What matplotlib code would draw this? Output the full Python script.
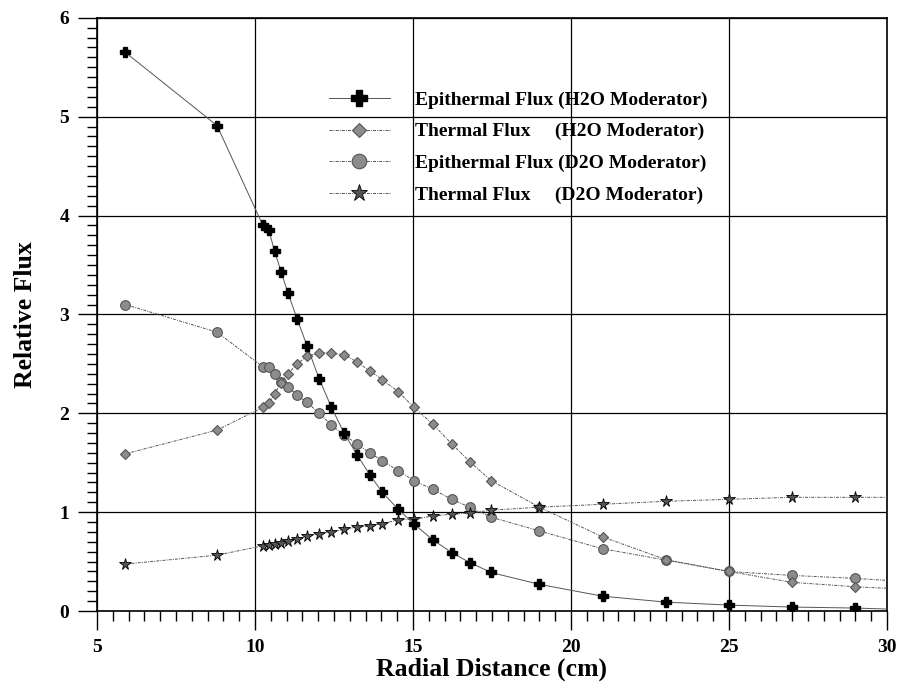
import matplotlib.pyplot as plt
from matplotlib.ticker import MultipleLocator

# radial positions where fluxes were computed (cm)
radius = [5.9, 8.8, 10.25, 10.44, 10.62, 10.83, 11.04, 11.34, 11.65, 12.03,
          12.42, 12.82, 13.23, 13.63, 14.03, 14.53, 15.03, 15.63, 16.23,
          16.8, 17.47, 19.0, 21.0, 23.0, 25.0, 27.0, 29.0]

epi_h2o = [5.65, 4.91, 3.90, 3.85, 3.64, 3.43, 3.22, 2.95, 2.68, 2.35,
           2.06, 1.80, 1.58, 1.38, 1.20, 1.03, 0.88, 0.72, 0.59,
           0.49, 0.39, 0.27, 0.15, 0.09, 0.06, 0.04, 0.03]

th_h2o = [1.59, 1.83, 2.06, 2.10, 2.20, 2.31, 2.40, 2.50, 2.58, 2.61,
          2.61, 2.59, 2.52, 2.43, 2.34, 2.22, 2.06, 1.89, 1.69,
          1.51, 1.32, 1.05, 0.75, 0.52, 0.40, 0.29, 0.245]

epi_d2o = [3.10, 2.82, 2.47, 2.47, 2.40, 2.32, 2.27, 2.18, 2.11, 2.00,
           1.88, 1.78, 1.69, 1.60, 1.52, 1.42, 1.32, 1.23, 1.13,
           1.05, 0.95, 0.81, 0.63, 0.515, 0.40, 0.36, 0.33]

th_d2o = [0.475, 0.565, 0.66, 0.67, 0.68, 0.69, 0.71, 0.73, 0.76, 0.78,
          0.80, 0.825, 0.85, 0.86, 0.885, 0.92, 0.93, 0.96, 0.98,
          0.99, 1.02, 1.05, 1.08, 1.11, 1.13, 1.15, 1.15]

# the drawn curves run on to the right edge of the plot
edge_x = 30.0
edge_vals = {"epi_h2o": 0.02, "th_h2o": 0.23, "epi_d2o": 0.31, "th_d2o": 1.15}

plt.rcParams['font.family'] = ['Liberation Serif', 'DejaVu Serif']
plt.rcParams['font.weight'] = 'bold'

fig = plt.figure(figsize=(8.98, 6.86), dpi=100)
ax = fig.add_axes([0.108, 0.1093, 0.8797, 0.8647])

n = len(radius)
xs = radius + [edge_x]
gray = '#8c8c8c'
dash = (0, (3, 1.2, 1, 1.2))

ax.plot(xs, epi_h2o + [edge_vals["epi_h2o"]], color='#555555', lw=0.7,
        linestyle='-', marker='P', markersize=7.5, markerfacecolor='black',
        markeredgecolor='black', markevery=list(range(n)),
        label='Epithermal Flux (H2O Moderator)', zorder=5)
ax.plot(xs, th_h2o + [edge_vals["th_h2o"]], color='#555555', lw=0.7,
        linestyle=dash, marker='D', markersize=5, markerfacecolor=gray,
        markeredgecolor='#555555', markeredgewidth=0.8,
        markevery=list(range(n)),
        label='Thermal Flux     (H2O Moderator)', zorder=4)
ax.plot(xs, epi_d2o + [edge_vals["epi_d2o"]], color='#555555', lw=0.7,
        linestyle=dash, marker='o', markersize=7, markerfacecolor=gray,
        markeredgecolor='#555555', markeredgewidth=0.8,
        markevery=list(range(n)),
        label='Epithermal Flux (D2O Moderator)', zorder=3)
ax.plot(xs, th_d2o + [edge_vals["th_d2o"]], color='#555555', lw=0.7,
        linestyle=dash, marker='*', markersize=8.5, markerfacecolor='#555555',
        markeredgecolor='black', markeredgewidth=0.6,
        markevery=list(range(n)),
        label='Thermal Flux     (D2O Moderator)', zorder=4)

ax.set_xlim(5, 30)
ax.set_ylim(0, 6)
ax.xaxis.set_major_locator(MultipleLocator(5))
ax.xaxis.set_minor_locator(MultipleLocator(0.5))
ax.yaxis.set_major_locator(MultipleLocator(1))
ax.yaxis.set_minor_locator(MultipleLocator(0.1))
ax.grid(True, which='major', color='black', lw=0.9)
ax.tick_params(which='major', direction='out', length=14, width=1,
               labelsize=14, pad=6)
ax.tick_params(which='minor', direction='out', length=7, width=1)
for lbl in ax.get_xticklabels() + ax.get_yticklabels():
    lbl.set_fontweight('bold')
for s in ax.spines.values():
    s.set_linewidth(1.2)

ax.set_xlabel('Radial Distance (cm)', fontsize=18.5, fontweight='bold', labelpad=1)
ax.set_ylabel('Relative Flux', fontsize=18.5, fontweight='bold', labelpad=16)

leg = ax.legend(loc='upper left', bbox_to_anchor=(0.272, 0.906), frameon=False,
                fontsize=14, handlelength=3.1, labelspacing=0.72,
                handletextpad=1.3, markerscale=1.5)

fig.savefig('out.png', dpi=100)
